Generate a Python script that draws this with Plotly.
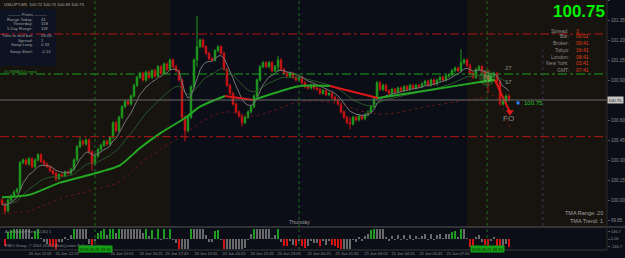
import plotly.graph_objects as go
import pandas as pd

W, H = 625, 258

# ---------------- data ----------------
closes = [
    99.97, 99.92, 100.00, 100.03, 100.06, 100.08, 100.28, 100.30, 100.27, 100.31,
    100.25, 100.30, 100.34, 100.29, 100.27, 100.25, 100.22, 100.20, 100.16, 100.19,
    100.18, 100.21, 100.20, 100.23, 100.30, 100.40, 100.44, 100.42, 100.45, 100.36,
    100.27, 100.33, 100.38, 100.41, 100.44, 100.42, 100.47, 100.58, 100.52, 100.62,
    100.70, 100.74, 100.72, 100.78, 100.86, 100.92, 100.95, 100.90, 100.96, 100.92,
    100.97, 100.93, 101.00, 100.95, 101.02, 100.98, 101.05, 101.00, 100.97, 100.90,
    100.62, 100.52, 100.62, 100.85, 101.05, 101.15, 101.20, 101.15, 101.10, 101.06,
    101.05, 101.12, 101.15, 101.10, 100.98, 100.86, 100.80, 100.72, 100.66, 100.63,
    100.58, 100.62, 100.66, 100.70, 100.78, 100.90, 101.00, 101.03, 101.00, 101.03,
    100.97, 101.00, 101.05, 100.98, 100.95, 100.93, 100.95, 100.92, 100.90, 100.92,
    100.88, 100.85, 100.84, 100.86, 100.84, 100.83, 100.80, 100.82, 100.79, 100.80,
    100.77, 100.75, 100.72, 100.66, 100.62, 100.58, 100.57, 100.62, 100.60, 100.63,
    100.61, 100.64, 100.66, 100.70, 100.76, 100.88, 100.83, 100.86, 100.82, 100.80,
    100.83, 100.81, 100.84, 100.82, 100.85, 100.83, 100.86, 100.84, 100.86, 100.85,
    100.87, 100.89, 100.86, 100.90, 100.87, 100.90, 100.92, 100.90, 100.93, 100.94,
    100.97, 100.99, 100.97, 101.03, 101.05, 101.01, 100.95, 100.92, 100.98, 101.00,
    100.96, 100.93, 100.90, 100.93, 100.95, 100.89, 100.72, 100.74, 100.78, 100.75,
]
first_open = 100.00
wick_idx = [1, 18, 26, 30, 61, 65, 80, 92, 116, 153, 162]
wick_high = [99.98, 100.18, 100.48, 100.36, 100.62, 101.38, 100.63, 101.08, 100.62, 101.13, 100.98]
wick_low = [99.89, 100.14, 100.40, 100.22, 100.44, 101.00, 100.55, 100.96, 100.53, 100.99, 100.80]

# TMA centre line (thick green/red) read at sample bars
tma_idx = [0, 9.3, 19.3, 29.3, 39.3, 46, 52.7, 61, 66, 74.3, 83.7, 99.3, 109.3, 125.3, 142.7, 159.3, 164.3, 169.3]
tma_val = [100.02, 100.04, 100.13, 100.19, 100.26, 100.39, 100.50, 100.615, 100.70, 100.78,
           100.75, 100.855, 100.855, 100.765, 100.825, 100.885, 100.90, 100.66]

red_levels = [101.245, 100.475]
green_levels = [100.945]
bid = 100.75

price_ticks = [99.85, 100.00, 100.15, 100.30, 100.45, 100.60, 100.90, 101.05, 101.20, 101.35, 101.50]
osc_ticks = [146.7, 0.0, -146.7]
osc_ticktext = ["146.7", "0.00", "-146.7"]

time_tick_idx = [2.7, 12.7, 21.7, 40, 49.7, 58.3, 68, 77.3, 86.7, 95.7, 105.7, 115, 124.7, 133.7, 143, 152]
time_tick_text = ["20 Jun 2013", "20 Jun 11:05", "20 Jun 12:25", "20 Jun 15:05", "20 Jun 16:25",
                  "20 Jun 17:45", "20 Jun 19:05", "20 Jun 20:25", "20 Jun 21:45", "20 Jun 23:05",
                  "21 Jun 00:25", "21 Jun 01:45", "21 Jun 03:05", "21 Jun 04:25", "21 Jun 05:45",
                  "21 Jun 07:05"]
vline_idx = [31, 99, 161.7]
vline_labels = ["2013.06.20 13:20", None, "2013.06.21 08:15"]

info_labels = ["Range Today:", "Yesterday:", "5 Day Range:", "Time to next bar:", "Spread:", "Swap Long:", "Swap Short:"]
info_values = ["41", "158", "118", "03:06", "1", "0.33", "-0.14"]
clock_labels = ["Spread:", "Bar:", "Broker:", "Tokyo:", "London:", "New York:", "GMT:"]
clock_values = ["3", "00:01", "09:41", "16:41", "08:41", "03:41", "07:41"]

# ---------------- derived ----------------
n = len(closes)
idx = list(range(n))
opens = [first_open] + closes[:-1]
highs = [max(o, c) + 0.012 for o, c in zip(opens, closes)]
lows = [min(o, c) - 0.012 for o, c in zip(opens, closes)]
for k, hi, lo in zip(wick_idx, wick_high, wick_low):
    highs[k] = max(highs[k], hi)
    lows[k] = min(lows[k], lo)

s = pd.Series(closes)
ema_fast = s.ewm(span=8, adjust=False).mean()
ema_slow = s.ewm(span=22, adjust=False).mean()
osc = ((s - s.ewm(span=5, adjust=False).mean()) * 4200).clip(-200, 200)
prev = osc.shift(1).fillna(0)
osc_col = []
for v, p in zip(osc, prev):
    if v >= 110 and v > p:
        osc_col.append('#1e9e1e')
    elif v <= -110 and v < p:
        osc_col.append('#d21414')
    else:
        osc_col.append('#6a6a6a')


def px(xp):
    return xp / W


def py(yp):
    return 1 - yp / H


XD = 607 / W
fig = go.Figure()

fig.add_trace(go.Candlestick(
    x=idx, open=opens, high=highs, low=lows, close=closes, xaxis='x', yaxis='y',
    increasing=dict(line=dict(color='#1e9a1e', width=1), fillcolor='#1e9a1e'),
    decreasing=dict(line=dict(color='#cc1414', width=1), fillcolor='#cc1414'),
    whiskerwidth=0, showlegend=False, hoverinfo='skip'))

fig.add_trace(go.Scatter(x=idx, y=ema_slow, mode='lines', line=dict(color='#2a532a', width=1),
                         showlegend=False, hoverinfo='skip'))
fig.add_trace(go.Scatter(x=idx, y=ema_fast, mode='lines', line=dict(color='#757575', width=1),
                         showlegend=False, hoverinfo='skip'))
fig.add_trace(go.Scatter(x=tma_idx, y=[v - 0.12 for v in tma_val], mode='lines',
                         line=dict(color='#621818', width=1, dash='dot', shape='spline'),
                         showlegend=False, hoverinfo='skip'))

# TMA coloured segments
seg_start = 0
for k in range(1, len(tma_idx)):
    up = tma_val[k] >= tma_val[k - 1]
    last = k == len(tma_idx) - 1
    nxt_up = None if last else tma_val[k + 1] >= tma_val[k]
    if last or nxt_up != up:
        fig.add_trace(go.Scatter(
            x=tma_idx[seg_start:k + 1], y=tma_val[seg_start:k + 1], mode='lines',
            line=dict(color='#24a824' if up else '#dc1818', width=2, shape='spline', smoothing=0.6),
            showlegend=False, hoverinfo='skip'))
        seg_start = k
fig.add_trace(go.Scatter(x=[tma_idx[-1]], y=[tma_val[-1]], mode='markers',
                         marker=dict(symbol='triangle-down', size=7, color='#e01818', line=dict(width=0)),
                         showlegend=False, hoverinfo='skip'))

# glow
fig.add_trace(go.Scatter(x=[161.7, 161.7], y=[100.915, 100.915], mode='markers',
                         marker=dict(size=[16, 8], color=['rgba(80,200,80,0.30)', 'rgba(130,240,130,0.45)'],
                                     line=dict(width=0)),
                         showlegend=False, hoverinfo='skip'))
# blue marker near bid label
fig.add_trace(go.Scatter(x=[172], y=[100.728], mode='markers',
                         marker=dict(symbol='square', size=3, color='#2a80ff', line=dict(width=0)),
                         showlegend=False, hoverinfo='skip'))

# oscillator
fig.add_trace(go.Bar(x=idx, y=osc, marker=dict(color=osc_col, line=dict(width=0)), width=0.5,
                     xaxis='x2', yaxis='y2', showlegend=False, hoverinfo='skip'))

shapes = []
# session backgrounds
for x0, x1 in [(-1, 56), (155, 203)]:
    shapes.append(dict(type='rect', xref='x', yref='paper', x0=x0, x1=x1, y0=py(228), y1=1,
                       fillcolor='#17140f', line=dict(width=0), layer='below'))
# info box
shapes.append(dict(type='rect', xref='paper', yref='paper', x0=0, x1=px(56), y0=py(66), y1=py(9),
                   fillcolor='#0d1322', line=dict(width=0), layer='below'))
for lv in red_levels:
    shapes.append(dict(type='line', xref='x domain', yref='y', x0=0, x1=1, y0=lv, y1=lv,
                       line=dict(color='#b41414', width=1, dash='dashdot')))
for lv in green_levels:
    shapes.append(dict(type='line', xref='x domain', yref='y', x0=0, x1=1, y0=lv, y1=lv,
                       line=dict(color='#18a018', width=1, dash='dashdot')))
shapes.append(dict(type='line', xref='x domain', yref='y', x0=0, x1=1, y0=bid, y1=bid,
                   line=dict(color='#6a6a6a', width=1)))
for vx in vline_idx:
    shapes.append(dict(type='line', xref='x', yref='paper', x0=vx, x1=vx, y0=py(250), y1=1,
                       line=dict(color='#1d6a1d', width=1, dash='dot')))
shapes.append(dict(type='line', xref='x', yref='paper', x0=180.3, x1=180.3, y0=py(226), y1=py(50),
                   line=dict(color='#343c58', width=1, dash='dot')))
# separators
shapes.append(dict(type='line', xref='paper', yref='paper', x0=0, x1=1, y0=py(227), y1=py(227),
                   line=dict(color='#555555', width=1)))
shapes.append(dict(type='line', xref='paper', yref='paper', x0=0, x1=XD, y0=py(250), y1=py(250),
                   line=dict(color='#3a3a3a', width=1)))
shapes.append(dict(type='line', xref='paper', yref='paper', x0=XD, x1=XD, y0=py(250), y1=1,
                   line=dict(color='#2c2c2c', width=1)))

ann = []
F = "Liberation Sans"


def txt(x, y, t, size=4, color='#9a9a9a', xa='left', **kw):
    ann.append(dict(x=px(x), y=py(y), xref='paper', yref='paper', text=t, showarrow=False,
                    xanchor=xa, yanchor='middle', font=dict(family=F, size=size, color=color), **kw))


txt(2, 4, "USDJPY,M5  100.72 100.75 100.69 100.75", 4.2, '#a8a8a8')
txt(28, 15, "——— Pivots ———", 4.2, '#a0a0a0', 'center')
for k, (lab, val) in enumerate(zip(info_labels, info_values)):
    yy = [19, 24, 29, 35, 40, 45, 51][k]
    txt(35, yy, lab, 4.2, '#a0a0a0', 'right')
    txt(39, yy, val, 4.2, '#a0a0a0', 'left')
txt(2, 71, "4 LWMA(50) trend", 4, '#2aa02a')

txt(607, 12, "<b>100.75</b>", 17, '#00f000', 'right')
for k, (lab, val) in enumerate(zip(clock_labels, clock_values)):
    yy = [31, 36, 43, 50, 57, 63, 70][k]
    txt(571, yy, lab, 5, '#8a8a8a', 'right')
    txt(574, yy, val, 5, '#e23c1c', 'left')
txt(605, 213, "TMA Range: 20", 5.5, '#a0a0a0', 'right')
txt(605, 221, "TMA Trend: 1", 5.5, '#a0a0a0', 'right')
txt(299, 222, "Thursday", 5, '#9a9a9a', 'center')
txt(3, 231, "AcceleratorFilter (12,45) 1", 4, '#8a8a8a')
txt(3, 245, "FIBO Group, © 2001-2013, MetaQuotes Software Corp.", 4, '#8a8a8a')

# data-anchored labels
for t, xi, yv, sz in [("27", 169, 100.99, 6), ("17", 169, 100.885, 6), ("FO", 168.7, 100.615, 8)]:
    ann.append(dict(x=xi, y=yv, xref='x', yref='y', text=t, showarrow=False,
                    font=dict(family=F, size=sz, color='#8c8c8c')))
ann.append(dict(x=173.3, y=100.728, xref='x', yref='y', text="100.75", showarrow=False, xanchor='left',
                font=dict(family=F, size=6, color='#22c022')))
for vx, lab in zip(vline_idx, vline_labels):
    if lab:
        ann.append(dict(x=vx, y=py(253), xref='x', yref='paper', text=lab, showarrow=False,
                        bgcolor='#12a012', borderpad=0.5, font=dict(family=F, size=4, color='#0a0a0a')))
ann.append(dict(x=XD, y=bid, xref='paper', yref='y', text="100.75", showarrow=False, xanchor='left',
                bgcolor='#c4c4c4', borderpad=0.5, font=dict(family=F, size=4.3, color='#101010')))

fig.update_layout(
    width=W, height=H, margin=dict(l=0, r=0, t=0, b=0),
    paper_bgcolor='#0b0e17', plot_bgcolor='#0b0e17',
    shapes=shapes, annotations=ann, bargap=0,
    xaxis=dict(domain=[0, XD], range=[-0.667, 201.67], anchor='y', showticklabels=False,
               showgrid=False, zeroline=False, rangeslider=dict(visible=False), fixedrange=True),
    yaxis=dict(domain=[py(226), 1], range=[99.805, 101.50], side='right', anchor='x',
               tickvals=price_ticks, ticktext=[f"{v:.2f}" for v in price_ticks],
               tickfont=dict(family=F, size=4.5, color='#8a8a8a'), showgrid=False, zeroline=False,
               ticks='outside', ticklen=2, tickcolor='#555555'),
    xaxis2=dict(domain=[0, XD], matches='x', anchor='y2', showgrid=False, zeroline=False,
                tickvals=time_tick_idx, ticktext=time_tick_text, ticks='',
                tickfont=dict(family=F, size=4, color='#8a8a8a'), tickangle=0),
    yaxis2=dict(domain=[py(250), py(228)], range=[-215, 215], side='right', anchor='x2',
                tickvals=osc_ticks, ticktext=osc_ticktext, showgrid=False, zeroline=False,
                tickfont=dict(family=F, size=4, color='#8a8a8a'), ticks='outside', ticklen=2,
                tickcolor='#555555'),
)

fig.write_html("out.html")
